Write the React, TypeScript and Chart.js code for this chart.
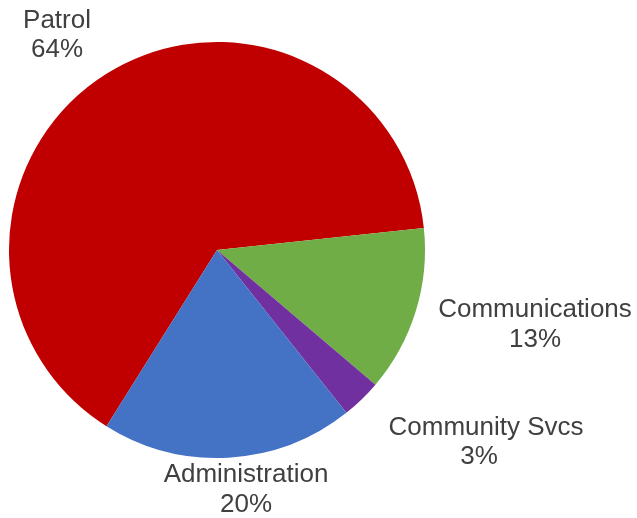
import React, { useEffect, useRef } from "react";
import { Chart, registerables } from "chart.js";

Chart.register(...registerables);

const categories = ["Patrol", "Communications", "Community Svcs", "Administration"];
const values = [64.4, 12.9, 3.1, 19.6];
const percentLabels = ["64%", "13%", "3%", "20%"];
const colors = ["#C00000", "#70AD47", "#7030A0", "#4472C4"];
// label anchor positions: [nameCenterX, nameBaseline, pctCenterX, pctBaseline]
const labelPositions = [
  [57, 28, 57, 57],
  [535, 317, 535, 347],
  [486, 435, 479, 464],
  [246, 482, 246, 512],
];

const labelPlugin = {
  id: "pieLabels",
  afterDraw(chart: any) {
    const ctx = chart.ctx;
    ctx.save();
    ctx.fillStyle = "#404040";
    ctx.font = '26px "Liberation Sans", Arial, sans-serif';
    ctx.textAlign = "center";
    ctx.textBaseline = "alphabetic";
    categories.forEach((c, i) => {
      const p = labelPositions[i];
      ctx.fillText(c, p[0], p[1]);
      ctx.fillText(percentLabels[i], p[2], p[3]);
    });
    ctx.restore();
  },
};

export default function App() {
  const ref = useRef<HTMLCanvasElement>(null);
  useEffect(() => {
    if (!ref.current) return;
    const chart = new Chart(ref.current, {
      type: "pie",
      data: {
        labels: categories,
        datasets: [
          {
            data: values,
            backgroundColor: colors,
            borderWidth: 0,
          },
        ],
      },
      options: {
        responsive: false,
        animation: false,
        rotation: 212.1,
        layout: { padding: { left: 9, right: 212, top: 42, bottom: 60 } },
        plugins: {
          legend: { display: false },
          tooltip: { enabled: false },
          title: { display: false },
        },
      },
      plugins: [labelPlugin],
    });
    return () => chart.destroy();
  }, []);
  return (
    <div style={{ position: "fixed", left: 0, top: 0, width: 637, height: 518, background: "#fff" }}>
      <canvas ref={ref} width={637} height={518} style={{ width: 637, height: 518 }} />
    </div>
  );
}
